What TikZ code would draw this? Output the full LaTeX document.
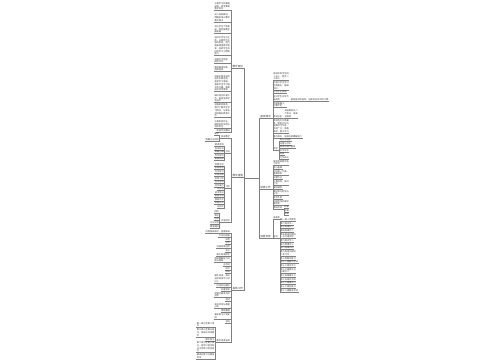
\documentclass[tikz,border=0pt]{standalone}
\usepackage{fontspec}
\newfontfamily\cjk{Noto Sans CJK SC}
\XeTeXlinebreaklocale "zh"
\XeTeXlinebreakskip=0pt plus 0.3pt
\definecolor{txt}{HTML}{3A3A3A}
\definecolor{lc}{HTML}{808080}
\tikzset{
  lf/.style={font=\cjk\fontsize{2.2}{2.75}\selectfont, text=txt, text width=#1pt, align=left, inner sep=0.3pt},
  lf/.default=15.5,
  br/.style={font=\cjk\fontsize{2.6}{3}\selectfont, text=txt, inner sep=0.3pt},
  ln/.style={draw=lc, line width=0.4pt},
}
\newcommand\mLN[5]{\node[lf=#4, anchor=south east] (#1) at (#2,#3) {#5}; \draw[ln] (#1.south west) -- (#1.south east);}
\newcommand\mRN[5]{\node[lf=#4, anchor=south west] (#1) at (#2,#3) {#5}; \draw[ln] (#1.south west) -- (#1.south east);}
\newcommand\mLC[3]{\draw[ln] (#1.south west) -- ++(-#3,0) |- (#2.south east);}
\newcommand\mRC[3]{\draw[ln] (#1.south east) -- ++(#3,0) |- (#2.south west);}
\begin{document}
\begin{tikzpicture}[x=1pt,y=-1pt]
\useasboundingbox[fill=white] (0,0) rectangle (500,360);
% root and main branches
\coordinate (root) at (251.5,178.5);
\node[br, anchor=south east] (L1) at (243.5,68.5) {教学目标};
\node[br, anchor=south east] (L2) at (243.5,177.5) {教学措施};
\node[br, anchor=south east] (L3) at (243.5,290.5) {具体工作};
\node[br, anchor=south west] (R1) at (259.8,118.5) {基本情况};
\node[br, anchor=south west] (R2) at (259.8,189.5) {常规工作};
\node[br, anchor=south west] (R3) at (259.8,238.5) {进度安排};
\foreach \n in {L1,L2,L3,R1,R2,R3} {\draw[ln] (\n.south west) -- (\n.south east);}
\foreach \n in {L1,L2,L3} {\draw[ln] (root) -- ++(-7.2,0) |- (\n.south east);}
\foreach \n in {R1,R2,R3} {\draw[ln] (root) -- ++(7.4,0) |- (\n.south west);}
% L1 children
\mLN{a1}{230.5}{10.5}{15.5}{认真学习新课程标准，转变教育教学观念}
\mLN{a2}{230.5}{22}{15.5}{深入钻研教材，明确各单元教学重点难点}
\mLN{a3}{230.5}{33.5}{15.5}{关注学生个体差异，因材施教全面发展}
\mLN{a4}{230.5}{55.5}{15.5}{坚持以学生为主体，以教师为主导的原则，努力提高课堂教学效率，培养学生良好的学习习惯和能力}
\mLN{a5}{230.5}{63.5}{15.5}{加强写字指导，规范书写}
\mLN{a6}{230.5}{71.5}{15.5}{重视朗读训练，培养语感}
\mLN{a7}{230.5}{91.5}{15.5}{开展丰富多彩的语文实践活动，拓宽学习渠道，激发学生学习语文的兴趣，提高语文综合素养}
\mLN{a8}{230.5}{102.5}{15.5}{做好培优补差工作，促进全体学生进步}
\mLN{a9}{230.5}{117.5}{15.5}{加强家校联系，及时了解学生学习情况，与家长共同做好教育工作}
\mLN{a10}{230.5}{128.5}{15.5}{认真批改作业，做到及时反馈与讲评到位}
\mLN{a11}{230.5}{132.5}{13.3}{积极参加教研}
\foreach \n in {a1,a2,a3,a4,a5,a6,a7,a8,a9,a10,a11} {\mLC{L1}{\n}{1}}
% L2 children
\mLN{b1}{230.5}{138.5}{8.9}{阅读教学}
\mLN{b1a}{219.5}{135.5}{4.5}{要求}
\mLN{b1b}{219.5}{141.5}{13.3}{明确方向目标}
\mLN{b2}{230.5}{153.5}{4.5}{方法}
\mLN{b2a}{224.3}{146.5}{8.9}{朗读感悟}
\mLN{b2b}{224.3}{150}{8.9}{品词析句}
\mLN{b2c}{224.3}{153.5}{8.9}{质疑问难}
\mLN{b2d}{224.3}{157}{8.9}{合作探究}
\mLN{b2e}{224.3}{160.5}{8.9}{拓展延伸}
\mLN{b3}{230.5}{188}{4.5}{习作}
\mLN{b3a}{224.3}{166}{8.9}{观察生活}
\mLN{b3b}{224.3}{169.5}{8.9}{积累素材}
\mLN{b3c}{224.3}{173}{8.9}{仿写练习}
\mLN{b3d}{224.3}{176.5}{8.9}{片段训练}
\mLN{b3e}{224.3}{180}{8.9}{修改习作}
\mLN{b3f}{224.3}{183.5}{8.9}{互评互改}
\mLN{b3g}{224.3}{187}{8.9}{佳作展示}
\mLN{b3h}{224.3}{190.5}{6.7}{写日记}
\mLN{b3i}{224.3}{194}{8.9}{读书笔记}
\mLN{b3j}{224.3}{197.5}{8.9}{看图写话}
\mLN{b3k}{224.3}{201}{8.9}{想象作文}
\mLN{b3l}{224.3}{204.5}{8.9}{命题作文}
\mLN{b3m}{224.3}{208}{6.7}{应用文}
\mLN{b4}{230.5}{222.5}{8.9}{口语交际}
\mLN{b4a}{219.5}{213}{4.5}{倾听}
\mLN{b4b}{219.5}{216.7}{4.5}{表达}
\mLN{b4c}{219.5}{220.4}{4.5}{应对}
\mLN{b4d}{219.5}{224.1}{8.9}{讨论交流}
\mLN{b4e}{219.5}{227.8}{8.9}{情景模拟}
\foreach \n in {b1,b2,b3,b4} {\mLC{L2}{\n}{1}}
\foreach \n in {b1a,b1b} {\mLC{b1}{\n}{1}}
\foreach \n in {b2a,b2b,b2c,b2d,b2e} {\mLC{b2}{\n}{0.6}}
\foreach \n in {b3a,b3b,b3c,b3d,b3e,b3f,b3g,b3h,b3i,b3j,b3k,b3l,b3m} {\mLC{b3}{\n}{0.6}}
\foreach \n in {b4a,b4b,b4c,b4d,b4e} {\mLC{b4}{\n}{1}}
% L3 children
\mLN{c1}{230.5}{233.5}{24.3}{巩固基础知识，查漏补缺}
\mLN{c2}{230.5}{237.2}{11.1}{字词句段篇}
\mLN{c3}{230.5}{240.9}{4.5}{拼音}
\mLN{c4}{230.5}{244.6}{4.5}{识字}
\mLN{c5}{230.5}{248.3}{13.3}{词语积累运用}
\mLN{c6}{230.5}{252}{4.5}{句子}
\mLN{c7}{230.5}{255.7}{13.3}{课文背诵默写}
\mLN{c8}{230.5}{262.5}{15.5}{阅读理解能力训练与提高}
\mLN{c9}{230.5}{266.2}{6.7}{古诗词}
\mLN{c10}{230.5}{269.9}{4.5}{标点}
\mLN{c11}{230.5}{273.6}{4.5}{修辞}
\mLN{c12}{230.5}{283}{15.5}{课外阅读，每天坚持阅读半小时以上}
\mLN{c13}{230.5}{287}{13.3}{好词好句摘抄}
\mLN{c14}{230.5}{290.7}{8.9}{名著导读}
\mLN{c15}{230.5}{297.5}{15.5}{定期开展读书交流会}
\mLN{c16}{230.5}{301.2}{4.5}{测试}
\mLN{c17}{230.5}{308.5}{15.5}{单元检测与质量分析}
\mLN{c18}{230.5}{312.2}{8.9}{错题整理}
\mLN{c19}{230.5}{319}{15.5}{期末复习计划安排}
\mLN{c20}{230.5}{322.7}{4.5}{总结}
\mLN{c21}{230.5}{342.5}{13.3}{教学进度安排}
\foreach \n in {c1,c2,c3,c4,c5,c6,c7,c8,c9,c10,c11,c12,c13,c14,c15,c16,c17,c18,c19,c20,c21} {\mLC{L3}{\n}{1}}
\mLN{d1}{215}{327.5}{17.7}{第一单元至第二单元}
\mLN{d2}{215}{337}{17.7}{第三单元至第五单元，穿插古诗词教学}
\mLN{d3}{215}{340.7}{8.9}{期中复习}
\mLN{d4}{215}{352.5}{17.7}{第六单元至第八单元，结合口语交际与习作练习有序进行}
\mLN{d5}{215}{358.8}{17.7}{期末总复习与期末考试}
\foreach \n in {d1,d2,d3,d4,d5} {\mLC{c21}{\n}{1}}
% R1 children
\mRN{e1}{272.8}{80.5}{15.5}{班级共有学生四十五人，男生二十四人}
\mRN{e2}{272.8}{90}{15.5}{大部分学生学习态度端正，基础较好}
\mRN{e3}{272.8}{93.5}{13.3}{个别学生较弱}
\mRN{e4}{272.8}{101}{15.5}{部分学生书写不够规范}
\mRN{e5}{272.8}{107.5}{13.3}{阅读量偏少，积累不足}
\mRN{e6}{272.8}{118}{8.9}{教材分析}
\mRN{e7}{272.8}{133}{15.5}{教材选文文质兼美，富有文化内涵和时代气息，题材广泛，体裁多样，便于学习}
\mRN{e8}{272.8}{138}{8.9}{重点难点}
\mRN{e9}{272.8}{150}{4.5}{目标}
\foreach \n in {e1,e2,e3,e4,e5,e6,e7,e8,e9} {\mRC{R1}{\n}{1.5}}
\mRN{e4g}{290.4}{101}{37.5}{需加强书写指导，培养良好的书写习惯}
\mRC{e4}{e4g}{1}
\mRN{e6g}{284}{118}{13.3}{本册教材共八个单元，每单元围绕}
\mRC{e6}{e6g}{1}
\mRN{e8g}{283.8}{138}{17.7}{培养阅读理解能力}
\mRC{e8}{e8g}{1}
\mRN{e9a}{279.4}{141.5}{11.1}{知识与技能}
\mRN{e9b}{279.4}{145}{11.1}{过程与方法}
\mRN{e9c}{279.4}{148.5}{15.5}{情感态度价值观}
\mRN{e9d}{279.4}{152}{8.9}{识字写字}
\mRN{e9e}{279.4}{155.5}{4.5}{阅读}
\mRN{e9f}{279.4}{159}{8.9}{习作表达}
\foreach \n in {e9a,e9b,e9c,e9d,e9e,e9f} {\mRC{e9}{\n}{0.8}}
% R2 children
\mRN{f1}{272.8}{165.5}{15.5}{落实常规教学各个环节}
\mRN{f2}{272.8}{169.2}{8.9}{精心备课}
\mRN{f3}{272.8}{175.5}{15.5}{上好每一节课，提高效率}
\mRN{f4}{272.8}{179.2}{8.9}{布置作业}
\mRN{f5}{272.8}{185.5}{15.5}{认真批改，及时订正}
\mRN{f6}{272.8}{189.2}{8.9}{课后辅导}
\mRN{f7}{272.8}{195.5}{15.5}{做好单元检测与分析}
\mRN{f8}{272.8}{199.2}{8.9}{教学反思}
\mRN{f9}{272.8}{205.5}{15.5}{积极参加听课评课活动}
\mRN{f10}{272.8}{209.5}{8.9}{教研活动}
\foreach \n in {f1,f2,f3,f4,f5,f6,f7,f8,f9,f10} {\mRC{R2}{\n}{1.5}}
\mRN{f10a}{283.8}{208.6}{4.5}{听课}
\mRN{f10b}{283.8}{212.1}{4.5}{评课}
\mRN{f10c}{283.8}{215.6}{4.5}{说课}
\foreach \n in {f10a,f10b,f10c} {\mRC{f10}{\n}{1}}
% R3 children
\mRN{h1}{272.8}{219.5}{6.7}{进度表}
\mRN{h2}{272.8}{238.5}{4.5}{周次}
\foreach \n in {h1,h2} {\mRC{R3}{\n}{1.5}}
\mRN{g1}{279.9}{221}{15.5}{第一周入学教育}
\mRN{g2}{279.9}{224.7}{13.3}{第二周识字一}
\mRN{g3}{279.9}{228.4}{13.3}{第三周课文一}
\mRN{g4}{279.9}{232.1}{13.3}{第四周课文二}
\mRN{g5}{279.9}{238.5}{15.5}{第五周语文园地一与口语交际}
\mRN{g6}{279.9}{242.2}{13.3}{第六周识字二}
\mRN{g7}{279.9}{245.9}{13.3}{第七周课文三}
\mRN{g8}{279.9}{249.6}{13.3}{第八周课文四}
\mRN{g9}{279.9}{256}{15.5}{第九周语文园地二及习作}
\mRN{g10}{279.9}{259.7}{15.5}{第十周期中复习}
\mRN{g11}{279.9}{263.4}{17.7}{第十一周期中考试}
\mRN{g12}{279.9}{267.1}{15.5}{第十二周识字三}
\mRN{g13}{279.9}{273.5}{15.5}{第十三周课文五与课文六}
\mRN{g14}{279.9}{277.2}{15.5}{第十四周课文七}
\mRN{g15}{279.9}{280.9}{15.5}{第十五周识字四}
\mRN{g16}{279.9}{284.6}{15.5}{第十六周课文八}
\mRN{g17}{279.9}{288.3}{15.5}{第十七周总复习}
\mRN{g18}{279.9}{292}{17.7}{第十八周期末考试}
\foreach \n in {g1,g2,g3,g4,g5,g6,g7,g8,g9,g10,g11,g12,g13,g14,g15,g16,g17,g18} {\mRC{h2}{\n}{1.5}}
\end{tikzpicture}
\end{document}
